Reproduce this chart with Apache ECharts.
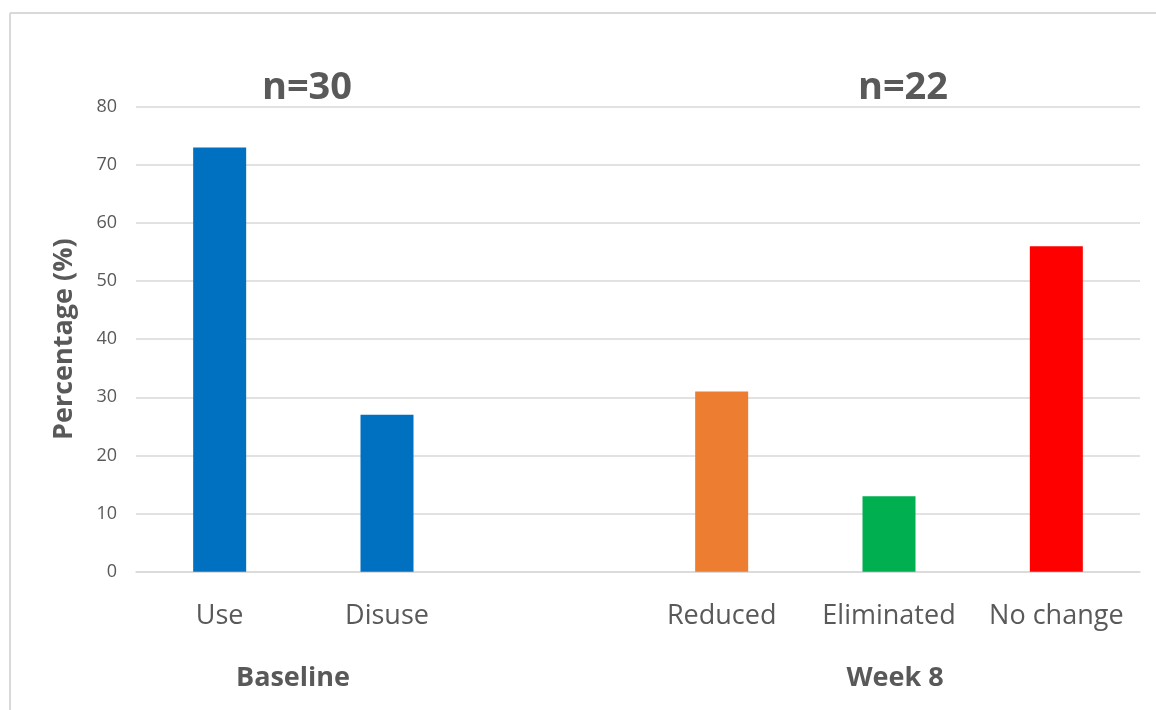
<!DOCTYPE html>
<html>
<head>
<meta charset="utf-8">
<script src="https://cdn.jsdelivr.net/npm/echarts@6/dist/echarts.min.js"></script>
<style>
  html, body { margin: 0; padding: 0; background: #ffffff; }
  #chart { width: 1156px; height: 710px; }
</style>
</head>
<body>
<div id="chart"></div>
<script>
// Categories along the x axis; the empty slot separates the two time points
const categories = ['Use', 'Disuse', '', 'Reduced', 'Eliminated', 'No change'];
// Percentage of participants in each category
const values = [73, 27, null, 31, 13, 56];
const barColors = ['#0070C0', '#0070C0', '#0070C0', '#ED7D31', '#00B050', '#FF0000'];
// Group annotations
const groupNames = ['Baseline', 'Week 8'];
const groupSizes = ['n=30', 'n=22'];
const yTicks = { min: 0, max: 80, interval: 10 };

const chart = echarts.init(document.getElementById('chart'));

const textGrey = '#595959';
const font = '"Open Sans", sans-serif';

chart.setOption({
  backgroundColor: '#ffffff',
  animation: false,
  grid: { left: 136, right: 16, top: 106.7, bottom: 138.3 },
  xAxis: {
    type: 'category',
    data: categories,
    axisLine: { lineStyle: { color: '#d9d9d9', width: 1.5 } },
    axisTick: { show: false },
    axisLabel: { color: textGrey, fontSize: 27, fontFamily: font, margin: 31, interval: 0 }
  },
  yAxis: {
    type: 'value',
    min: yTicks.min,
    max: yTicks.max,
    interval: yTicks.interval,
    name: 'Percentage (%)',
    nameLocation: 'middle',
    nameGap: 58,
    nameRotate: 90,
    nameTextStyle: { color: textGrey, fontSize: 27, fontWeight: 'bold', fontFamily: font },
    axisLine: { show: false },
    axisTick: { show: false },
    splitLine: { lineStyle: { color: '#d9d9d9', width: 1.5 } },
    axisLabel: { color: textGrey, fontSize: 18, fontFamily: font, margin: 19 }
  },
  series: [{
    type: 'bar',
    data: values.map((v, i) => ({ value: v, itemStyle: { color: barColors[i] } })),
    barWidth: 53
  }],
  graphic: [
    // frame lines on the left and top
    { type: 'line', shape: { x1: 10, y1: 13, x2: 1156, y2: 13 }, style: { stroke: '#d9d9d9', lineWidth: 2 } },
    { type: 'line', shape: { x1: 10, y1: 13, x2: 10, y2: 710 }, style: { stroke: '#d9d9d9', lineWidth: 2 } },
    // sample sizes above each group
    { type: 'text', x: 307, y: 107, style: { text: groupSizes[0], fill: textGrey, font: 'bold 38px ' + font, textAlign: 'center', textVerticalAlign: 'bottom' } },
    { type: 'text', x: 903, y: 107, style: { text: groupSizes[1], fill: textGrey, font: 'bold 38px ' + font, textAlign: 'center', textVerticalAlign: 'bottom' } },
    // group names below the axis
    { type: 'text', x: 293, y: 678, style: { text: groupNames[0], fill: textGrey, font: 'bold 27px ' + font, textAlign: 'center', textVerticalAlign: 'middle' } },
    { type: 'text', x: 895, y: 678, style: { text: groupNames[1], fill: textGrey, font: 'bold 27px ' + font, textAlign: 'center', textVerticalAlign: 'middle' } }
  ]
});
</script>
</body>
</html>
